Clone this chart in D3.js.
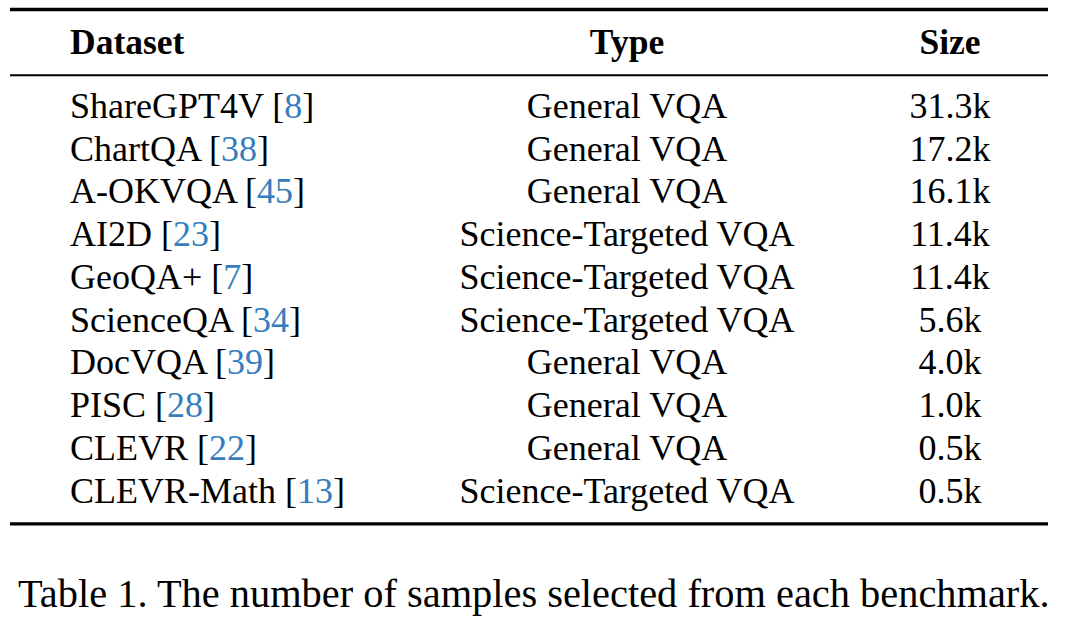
<!DOCTYPE html>
<html>
<head>
<meta charset="utf-8">
<script src="https://cdn.jsdelivr.net/npm/d3@7"></script>
<style>
  html, body { margin: 0; padding: 0; background: #fff; }
  svg { display: block; }
</style>
</head>
<body>
<svg id="chart" width="1065" height="627"></svg>
<script>
const headers = ["Dataset", "Type", "Size"];
const datasets = ["ShareGPT4V", "ChartQA", "A-OKVQA", "AI2D", "GeoQA+", "ScienceQA", "DocVQA", "PISC", "CLEVR", "CLEVR-Math"];
const cites = ["8", "38", "45", "23", "7", "34", "39", "28", "22", "13"];
const types = ["General VQA", "General VQA", "General VQA", "Science-Targeted VQA", "Science-Targeted VQA", "Science-Targeted VQA", "General VQA", "General VQA", "General VQA", "Science-Targeted VQA"];
const sizes = ["31.3k", "17.2k", "16.1k", "11.4k", "11.4k", "5.6k", "4.0k", "1.0k", "0.5k", "0.5k"];
const caption = "Table 1. The number of samples selected from each benchmark.";

const svg = d3.select("#chart");
const font = "'Liberation Serif', 'Times New Roman', serif";
const citeColor = "#367dbd";

const rowY = d3.scalePoint().domain(d3.range(datasets.length)).range([118, 502.7]);
const colX = { Dataset: 70, Type: 627, Size: 950 };
const anchors = { Dataset: "start", Type: "middle", Size: "middle" };
const x0 = 10, x1 = 1048;

// rules
svg.append("line").attr("x1", x0).attr("x2", x1).attr("y1", 9.5).attr("y2", 9.5)
  .attr("stroke", "#000").attr("stroke-width", 3.3);
svg.append("line").attr("x1", x0).attr("x2", x1).attr("y1", 75.3).attr("y2", 75.3)
  .attr("stroke", "#000").attr("stroke-width", 2);
svg.append("line").attr("x1", x0).attr("x2", x1).attr("y1", 523.8).attr("y2", 523.8)
  .attr("stroke", "#000").attr("stroke-width", 3.3);

// headers
svg.selectAll("text.hdr").data(headers).join("text")
  .attr("class", "hdr")
  .attr("x", d => colX[d]).attr("y", 54)
  .attr("text-anchor", d => anchors[d])
  .attr("font-family", font).attr("font-weight", "bold").attr("font-size", 35.5)
  .attr("fill", "#000")
  .text(d => d);

// dataset column
const ds = svg.selectAll("text.ds").data(datasets).join("text")
  .attr("class", "ds")
  .attr("x", colX.Dataset).attr("y", (d, i) => rowY(i))
  .attr("font-family", font).attr("font-size", 36).attr("fill", "#000");
ds.append("tspan").text(d => d + " [");
ds.append("tspan").attr("fill", citeColor).text((d, i) => cites[i]);
ds.append("tspan").text("]");

// type column
svg.selectAll("text.tp").data(types).join("text")
  .attr("class", "tp")
  .attr("x", colX.Type).attr("y", (d, i) => rowY(i))
  .attr("text-anchor", "middle")
  .attr("font-family", font).attr("font-size", 36).attr("fill", "#000")
  .text(d => d);

// size column
svg.selectAll("text.sz").data(sizes).join("text")
  .attr("class", "sz")
  .attr("x", colX.Size).attr("y", (d, i) => rowY(i))
  .attr("text-anchor", "middle")
  .attr("font-family", font).attr("font-size", 36).attr("fill", "#000")
  .text(d => d);

// caption
svg.append("text")
  .attr("x", 18).attr("y", 607)
  .attr("font-family", font).attr("font-size", 40.4).attr("fill", "#000")
  .text(caption);
</script>
</body>
</html>
